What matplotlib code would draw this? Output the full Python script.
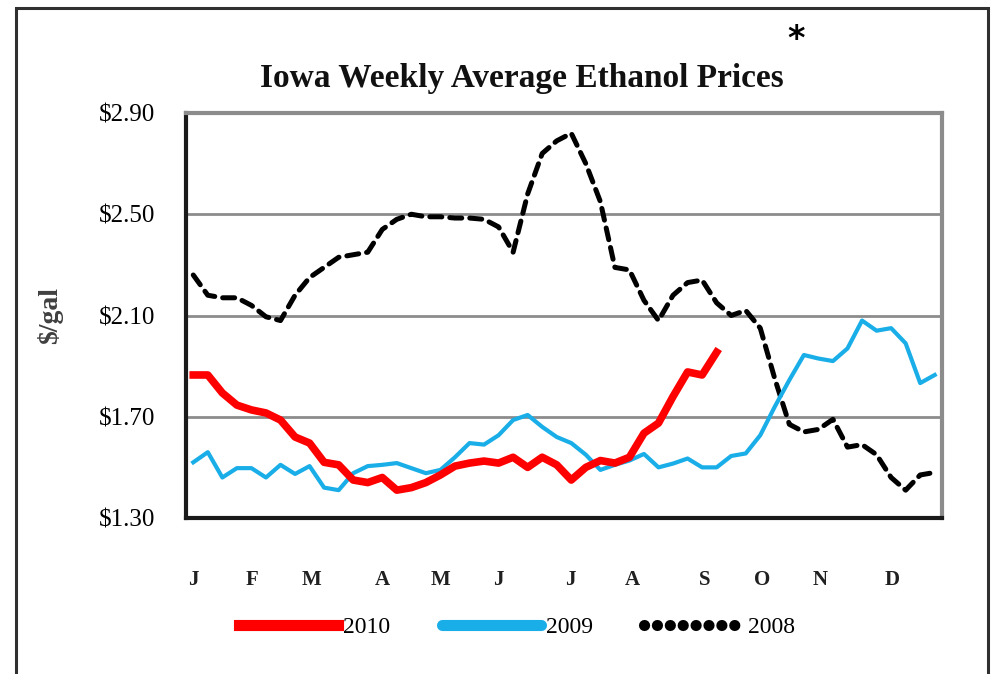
import matplotlib
matplotlib.use("Agg")
import matplotlib.pyplot as plt
from matplotlib.lines import Line2D
from matplotlib.patches import Rectangle
import matplotlib.transforms as mtransforms

# weekly prices, $/gal
weeks_2010 = list(range(1, 38))
price_2010 = [1.865, 1.865, 1.794, 1.746, 1.727, 1.715, 1.687, 1.62, 1.596, 1.52,
              1.51, 1.45, 1.44, 1.46, 1.41, 1.42, 1.44, 1.47, 1.505, 1.517,
              1.525, 1.517, 1.54, 1.50, 1.54, 1.51, 1.45, 1.50, 1.527, 1.517,
              1.54, 1.635, 1.675, 1.78, 1.877, 1.865, 1.955]

weeks_full = list(range(1, 53))
price_2009 = [1.52, 1.56, 1.46, 1.497, 1.497, 1.46, 1.51, 1.474, 1.505, 1.42,
              1.41, 1.477, 1.505, 1.51, 1.517, 1.497, 1.477, 1.49, 1.54, 1.596,
              1.59, 1.627, 1.687, 1.707, 1.66, 1.62, 1.596, 1.55, 1.49, 1.51,
              1.527, 1.553, 1.50, 1.515, 1.535, 1.50, 1.50, 1.545, 1.555, 1.627,
              1.74, 1.845, 1.944, 1.93, 1.92, 1.97, 2.08, 2.04, 2.05, 1.99,
              1.833, 1.865]

price_2008 = [2.26, 2.18, 2.17, 2.17, 2.14, 2.095, 2.08, 2.18, 2.25, 2.29,
              2.33, 2.34, 2.35, 2.44, 2.48, 2.50, 2.49, 2.49, 2.485, 2.485,
              2.48, 2.45, 2.35, 2.58, 2.74, 2.79, 2.82, 2.70, 2.55, 2.29,
              2.28, 2.16, 2.08, 2.18, 2.23, 2.24, 2.15, 2.10, 2.12, 2.05,
              1.85, 1.67, 1.64, 1.65, 1.69, 1.58, 1.59, 1.55, 1.46, 1.41,
              1.47, 1.48]

month_labels = ["J", "F", "M", "A", "M", "J", "J", "A", "S", "O", "N", "D"]
month_pos = [1, 5.05, 9.1, 14.0, 18.0, 22.0, 26.9, 31.2, 36.2, 40.1, 44.1, 49.1]

yticks = [1.30, 1.70, 2.10, 2.50, 2.90]

serif = "Liberation Serif"

fig = plt.figure(figsize=(9.92, 6.74), dpi=100)
ax = fig.add_axes([186 / 992, 1 - 518 / 674, 756 / 992, 405 / 674])

# outer frame of the picture
fig.patches.append(Rectangle((16 / 992, -0.05), (988 - 16) / 992, 1.05 - 8 / 674,
                             transform=fig.transFigure, fill=False,
                             edgecolor="#303030", linewidth=2.2, zorder=0))

ax.plot(weeks_full, price_2008, color="black", linewidth=3.6,
        linestyle=(0, (2.4, 1.6)), dash_capstyle="round", zorder=3)
ax.plot(weeks_full, price_2009, color="#1AAEE8", linewidth=3.0, zorder=4)
ax.plot(weeks_2010, price_2010, color="#FF0000", linewidth=5.5,
        solid_joinstyle="round", zorder=5)

ax.set_xlim(0.5, 52.5)
ax.set_ylim(1.30, 2.90)
ax.set_yticks(yticks)
ax.set_yticklabels([f"${v:.2f}" for v in yticks], fontfamily=serif, fontsize=18)
ax.tick_params(axis="y", length=0, pad=22)
ax.set_xticks([])
ax.grid(axis="y", color="#8C8C8C", linewidth=2.0)
ax.set_axisbelow(True)

for side in ("top", "right"):
    ax.spines[side].set_color("#8C8C8C")
    ax.spines[side].set_linewidth(3)
for side in ("left", "bottom"):
    ax.spines[side].set_color("#1A1A1A")
    ax.spines[side].set_linewidth(3)

ax.set_ylabel("$/gal", fontfamily=serif, fontsize=20, fontweight="bold",
              color="#404040", labelpad=26)

trans = mtransforms.blended_transform_factory(ax.transData, fig.transFigure)
for lab, pos in zip(month_labels, month_pos):
    ax.text(pos, 1 - 580 / 674, lab, transform=trans, ha="center", va="center",
            fontfamily=serif, fontsize=15, fontweight="bold", color="#202020")

fig.text(522 / 992, 1 - 79 / 674, "Iowa Weekly Average Ethanol Prices",
         ha="center", va="center", fontfamily=serif, fontsize=24,
         fontweight="bold", color="#111111")
fig.text(796 / 992, 1 - 40 / 674, "*", ha="center", va="center",
         fontfamily="DejaVu Sans", fontsize=24, fontweight="bold")

handles = [
    Line2D([], [], color="#FF0000", linewidth=8),
    Line2D([], [], color="#1AAEE8", linewidth=8, solid_capstyle="round"),
    Line2D([], [], color="black", linewidth=8, linestyle=(0, (0.01, 1.15)),
           dash_capstyle="round"),
]
fig.legend(handles, ["2010", "2009", "2008"], loc="center",
           bbox_to_anchor=(517 / 992, 1 - 627 / 674), ncol=3, frameon=False,
           handlelength=4.2, handletextpad=0.2, columnspacing=2.2,
           prop={"family": serif, "size": 17})

fig.savefig("out.png", dpi=100)
